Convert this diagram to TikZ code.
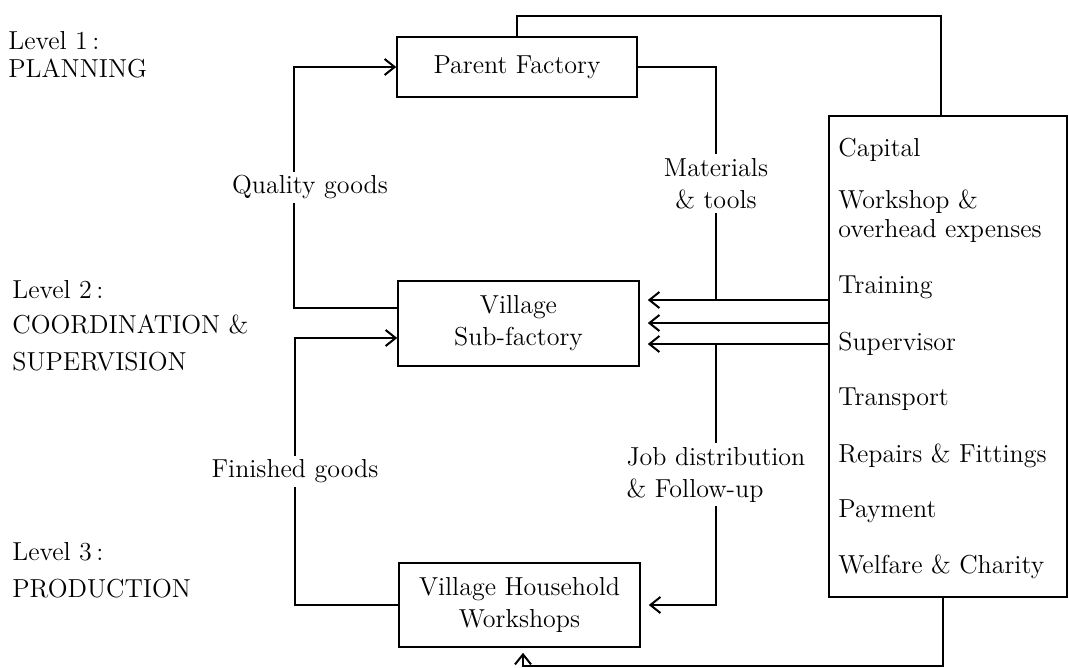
\documentclass[tikz,border=0pt]{standalone}
\usepackage{tikz}
\usetikzlibrary{arrows.meta}

\begin{document}
\begin{tikzpicture}[x=0.5pt,y=-0.5pt,
	font=\fontsize{13}{16}\selectfont,
	>={Straight Barb[length=5pt,width=8pt]},
	flow/.style={line width=1pt},
	unit/.style={draw, line width=0.8pt, inner sep=0pt, align=center},
	lbl/.style={fill=white, inner sep=2pt, align=center},
	level/.style={anchor=base west, inner sep=0pt},
	item/.style={anchor=base west, inner sep=0pt}]

	\useasboundingbox (0,0) rectangle (1069,668);

	% Levels
	\node[level] (l1a) at (8,50) {Level 1\,:};
	\node[level] (l1b) at (8,78) {PLANNING};
	\node[level] (l2a) at (12,298) {Level 2\,:};
	\node[level] (l2b) at (12,333) {COORDINATION \&};
	\node[level] (l2c) at (12,370) {SUPERVISION};
	\node[level] (l3a) at (12,560) {Level 3\,:};
	\node[level] (l3b) at (12,597) {PRODUCTION};

	% Boxes
	\node[unit, minimum width=120pt, minimum height=30pt] (parent) at (517,67) {Parent Factory};
	\node[unit, minimum width=120.5pt, minimum height=42.5pt] (sub) at (518.5,323.5) {Village\\Sub-factory};
	\node[unit, minimum width=120.5pt, minimum height=42pt] (house) at (519.5,605) {Village Household\\Workshops};

	% Inputs box
	\node[draw, line width=0.8pt, inner sep=0pt, minimum width=119pt, minimum height=240.5pt] (res) at (948,356.5) {};
	\node[item] (cap) at (838,157) {Capital};
	\node[item] (work) at (838,208) {Workshop \&};
	\node[item] (over) at (838,237) {overhead expenses};
	\node[item] (train) at (838,293) {Training};
	\node[item] (superv) at (838,350) {Supervisor};
	\node[item] (trans) at (838,405) {Transport};
	\node[item] (repair) at (838,462) {Repairs \& Fittings};
	\node[item] (pay) at (838,517) {Payment};
	\node[item] (welf) at (838,573) {Welfare \& Charity};

	% Quality goods up to the factory
	\draw[flow,->] (sub.west |- 0,308) -- (294,308) -- node[lbl, xshift=8pt] (qual) {Quality goods} (294,67) -- (parent.west);

	% Materials down to the sub-factory
	\draw[flow] (parent.east) -- (716,67) -- node[lbl] (mat) {Materials\\\& tools} (716,300);

	% Inputs to the sub-factory
	\draw[flow,->,shorten >=4pt] (res.west |- 0,300) -- (sub.east |- 0,300);
	\draw[flow,->,shorten >=4pt] (res.west |- 0,323) -- (sub.east |- 0,323);
	\draw[flow,->,shorten >=4pt] (res.west |- 0,344) -- (sub.east |- 0,344);

	% Jobs down to the households
	\draw[flow,->,shorten >=4pt] (716,344) -- node[lbl, align=left] (job) {Job distribution\\\& Follow-up} (716,605) -- (house.east);

	% Finished goods back up
	\draw[flow,->] (house.west) -- (295,605) -- node[lbl] (fin) {Finished goods} (295,338) -- (sub.west |- 0,338);

	% Feedback lines from the inputs box
	\draw[flow] (res.north -| 941,0) -- (941,16) -| (parent.north);
	\draw[flow,->,shorten >=2.5pt] (res.south -| 943,0) -- (943,666) -- (523,666) -- (house.south -| 523,0);

\end{tikzpicture}
\end{document}
